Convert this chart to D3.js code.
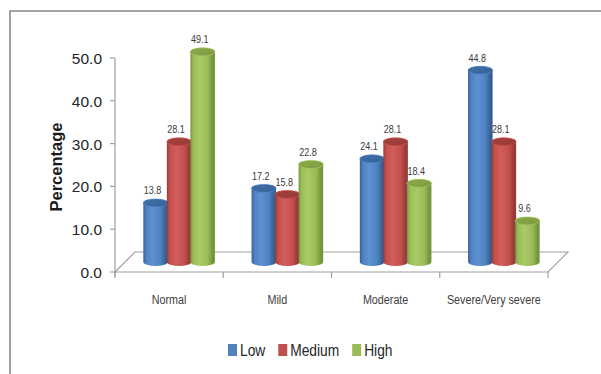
<!DOCTYPE html>
<html>
<head>
<meta charset="utf-8">
<script src="https://cdn.jsdelivr.net/npm/d3@7"></script>
<style>
  html, body { margin: 0; padding: 0; background: #fff; }
  svg { display: block; }
  text { font-family: "Liberation Sans", Arial, sans-serif; }
</style>
</head>
<body>
<svg id="chart" width="601" height="374"></svg>
<script>
// ---- data ----
const categories = ["Normal", "Mild", "Moderate", "Severe/Very severe"];
const seriesNames = ["Low", "Medium", "High"];
const lowValues = [13.8, 17.2, 24.1, 44.8];
const mediumValues = [28.1, 15.8, 28.1, 28.1];
const highValues = [49.1, 22.8, 18.4, 9.6];
const yTicks = [0, 10, 20, 30, 40, 50];

const seriesValues = [lowValues, mediumValues, highValues];

// ---- palette (body gradient stops and cap colour per series) ----
const palette = {
  Low:    { edge: "#365f90", mid: "#4f82c2", light: "#5d91d2", cap: "#3e6ea8", key: "#4f81bd" },
  Medium: { edge: "#953a37", mid: "#c4504d", light: "#d25d5a", cap: "#a7413e", key: "#c0504d" },
  High:   { edge: "#76933d", mid: "#9bbd58", light: "#a9cb66", cap: "#8aab49", key: "#9bbb59" }
};

const svg = d3.select("#chart");

// ---- outer frame ----
svg.append("rect")
  .attr("x", 10).attr("y", 11).attr("width", 620).attr("height", 400)
  .attr("fill", "none").attr("stroke", "#8c8c8c").attr("stroke-width", 1.6);

// ---- scales (front plane of the 3D floor) ----
const plot = { left: 115, right: 548, bottom: 272, top: 58 };
const depth = 20;            // floor depth offset (x right, y up)
const mid = depth / 2;       // cylinders stand in the middle of the floor

const x = d3.scaleBand().domain(categories).range([plot.left, plot.right]).padding(0);
const inner = d3.scaleBand().domain(seriesNames)
  .range([-x.bandwidth() * 0.326, x.bandwidth() * 0.326]).padding(0);
const y = d3.scaleLinear().domain([0, 50]).range([plot.bottom, plot.top]);

const defs = svg.append("defs");
seriesNames.forEach(name => {
  const p = palette[name];
  const g = defs.append("linearGradient").attr("id", "body-" + name)
    .attr("x1", 0).attr("x2", 1).attr("y1", 0).attr("y2", 0);
  [[0, p.edge], [0.12, p.mid], [0.38, p.light], [0.7, p.mid], [0.92, p.edge], [1, p.edge]]
    .forEach(([o, c]) => g.append("stop").attr("offset", o).attr("stop-color", c));
  const t = defs.append("linearGradient").attr("id", "cap-" + name)
    .attr("x1", 0).attr("x2", 1).attr("y1", 0).attr("y2", 1);
  [[0, p.cap], [1, d3.color(p.cap).darker(0.3)]]
    .forEach(([o, c]) => t.append("stop").attr("offset", o).attr("stop-color", c));
});

const axisColor = "#a0a0a0";

// ---- floor outline ----
const floor = svg.append("g").attr("fill", "none").attr("stroke", axisColor).attr("stroke-width", 1.2);
floor.append("path").attr("d", [
  "M", plot.left, plot.bottom,
  "L", plot.right, plot.bottom,
  "L", plot.right + depth, plot.bottom - depth,
  "L", plot.left + depth, plot.bottom - depth,
  "Z"
].join(" "));

// category ticks on the front edge
const catEdges = categories.map(c => x(c)).concat([plot.right]);
floor.selectAll("line.ctick").data(catEdges).join("line")
  .attr("class", "ctick")
  .attr("x1", d => d).attr("x2", d => d)
  .attr("y1", plot.bottom).attr("y2", plot.bottom + 6);

// ---- value axis ----
const yAxis = svg.append("g");
yAxis.append("line")
  .attr("x1", plot.left).attr("x2", plot.left)
  .attr("y1", y(50)).attr("y2", plot.bottom + 4)
  .attr("stroke", axisColor).attr("stroke-width", 1.2);
yAxis.selectAll("line.ytick").data(yTicks).join("line")
  .attr("class", "ytick")
  .attr("x1", plot.left - 5).attr("x2", plot.left)
  .attr("y1", d => y(d)).attr("y2", d => y(d))
  .attr("stroke", axisColor).attr("stroke-width", 1.2);
yAxis.selectAll("text").data(yTicks).join("text")
  .attr("x", plot.left - 13).attr("y", d => y(d) + 6)
  .attr("text-anchor", "end")
  .attr("font-size", 15.5).attr("fill", "#262626")
  .text(d => d.toFixed(1));

svg.append("text")
  .attr("transform", `translate(62, ${(y(50) + y(0)) / 2 + 2}) rotate(-90)`)
  .attr("text-anchor", "middle")
  .attr("font-size", 16.5).attr("font-weight", "bold").attr("fill", "#1a1a1a")
  .text("Percentage");

// ---- cylinders ----
const rx = inner.bandwidth() / 2 + 0.5;
const ry = 4;
const baseY = y(0) - mid;

function cylinderBody(cx, topY) {
  return [
    "M", cx - rx, topY,
    "L", cx - rx, baseY,
    "A", rx, ry, 0, 0, 0, cx + rx, baseY,
    "L", cx + rx, topY,
    "A", rx, ry, 0, 0, 0, cx - rx, topY,
    "Z"
  ].join(" ");
}

const bars = [];
categories.forEach((c, i) => {
  seriesNames.forEach((s, j) => {
    bars.push({
      category: c, series: s, value: seriesValues[j][i],
      cx: x(c) + x.bandwidth() / 2 + mid + inner(s) + inner.bandwidth() / 2
    });
  });
});

const cyl = svg.append("g").selectAll("g").data(bars).join("g");
cyl.append("path")
  .attr("d", d => cylinderBody(d.cx, y(d.value) - mid))
  .attr("fill", d => `url(#body-${d.series})`);
cyl.append("ellipse")
  .attr("cx", d => d.cx).attr("cy", d => y(d.value) - mid)
  .attr("rx", rx).attr("ry", ry)
  .attr("fill", d => `url(#cap-${d.series})`)
  .attr("stroke", d => d3.color(palette[d.series].mid).brighter(0.2))
  .attr("stroke-width", 0.6);

// value labels
svg.append("g").selectAll("text").data(bars).join("text")
  .attr("x", d => d.cx - 3)
  .attr("y", d => y(d.value) - mid - 8.5)
  .attr("text-anchor", "middle")
  .attr("font-size", 10).attr("fill", "#3a3a3a")
  .text(d => d.value.toFixed(1))
  .each(function () {
    const w = this.getComputedTextLength();
    d3.select(this).attr("textLength", w * 0.9).attr("lengthAdjust", "spacingAndGlyphs");
  });

// category labels
svg.append("g").selectAll("text").data(categories).join("text")
  .attr("x", d => x(d) + x.bandwidth() / 2)
  .attr("y", 304)
  .attr("text-anchor", "middle")
  .attr("font-size", 12.5).attr("fill", "#404040")
  .text(d => d)
  .each(function () {
    const w = this.getComputedTextLength();
    d3.select(this).attr("textLength", w * 0.86).attr("lengthAdjust", "spacingAndGlyphs");
  });

// ---- legend ----
const legend = svg.append("g");
let lx = 228;
seriesNames.forEach(s => {
  legend.append("rect")
    .attr("x", lx).attr("y", 344).attr("width", 9).attr("height", 12)
    .attr("fill", palette[s].key);
  const t = legend.append("text")
    .attr("x", lx + 12).attr("y", 356)
    .attr("font-size", 16).attr("fill", "#262626")
    .text(s);
  const w = t.node().getComputedTextLength() * 0.86;
  t.attr("textLength", w).attr("lengthAdjust", "spacingAndGlyphs");
  lx += 12 + w + 13;
});
</script>
</body>
</html>
